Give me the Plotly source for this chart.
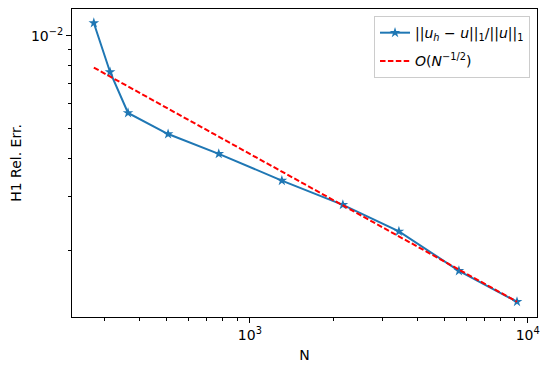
import plotly.graph_objects as go

N = [274.5, 314, 364.5, 508, 773, 1304, 2162, 3440, 5656, 9152]
err = [0.0110, 0.00762, 0.00561, 0.00479, 0.00413, 0.00338, 0.00282, 0.00231, 0.00172, 0.001365]
ref_N = [274.5, 9152]
ref_err = [0.00788, 0.001365]

x_major = [1000, 10000]
x_major_text = ["10<sup>3</sup>", "10<sup>4</sup>"]
x_minor = [300, 400, 500, 600, 700, 800, 900, 2000, 3000, 4000, 5000, 6000, 7000, 8000, 9000]
y_major = [0.01]
y_major_text = ["10<sup>−2</sup>"]
y_minor = [0.002, 0.003, 0.004, 0.005, 0.006, 0.007, 0.008, 0.009]

font = dict(family="DejaVu Sans", size=14, color="black")

fig = go.Figure()
fig.add_trace(go.Scatter(
    x=N, y=err, mode="lines+markers",
    name="||<i>u</i><sub><i>h</i></sub> − <i>u</i>||<sub>1</sub>/||<i>u</i>||<sub>1</sub>",
    legendgroup="a",
    line=dict(color="#1f77b4", width=2),
    marker=dict(symbol="star", size=8, color="#1f77b4"),
))
fig.add_trace(go.Scatter(
    x=ref_N, y=ref_err, mode="lines",
    name="<i>O</i>(<i>N</i><sup>−1/2</sup>)",
    legendgroup="b",
    line=dict(color="#ff0000", width=2, dash="5.5px,2.4px"),
))

axis_common = dict(
    showline=True, linecolor="black", linewidth=1, mirror=True,
    showgrid=False, zeroline=False, ticks="outside", ticklen=5,
    tickwidth=1, tickcolor="black", tickfont=font, automargin=False,
)

fig.update_xaxes(
    type="log", range=[2.360, 4.0335],
    tickmode="array", tickvals=x_major, ticktext=x_major_text,
    minor=dict(tickmode="array", tickvals=x_minor, ticks="outside",
               ticklen=3, tickwidth=1, tickcolor="black", showgrid=False),
    title=dict(text="N", font=font, standoff=8),
    **axis_common,
)
fig.update_yaxes(
    type="log", range=[-2.9145, -1.9132],
    tickmode="array", tickvals=y_major, ticktext=y_major_text,
    minor=dict(tickmode="array", tickvals=y_minor, ticks="outside",
               ticklen=3, tickwidth=1, tickcolor="black", showgrid=False),
    title=dict(text="H1 Rel. Err.", font=font, standoff=10),
    **axis_common,
)

fig.update_layout(
    width=542, height=367,
    margin=dict(l=64, r=13, t=1, b=58),
    paper_bgcolor="white", plot_bgcolor="white",
    font=font,
    showlegend=True,
    legend=dict(
        x=0.6495, y=0.977, xanchor="left", yanchor="top",
        bgcolor="rgba(255,255,255,0.8)", bordercolor="#cccccc", borderwidth=1,
        font=font, tracegroupgap=7, itemwidth=30,
    ),
)

fig.write_html("out.html")
